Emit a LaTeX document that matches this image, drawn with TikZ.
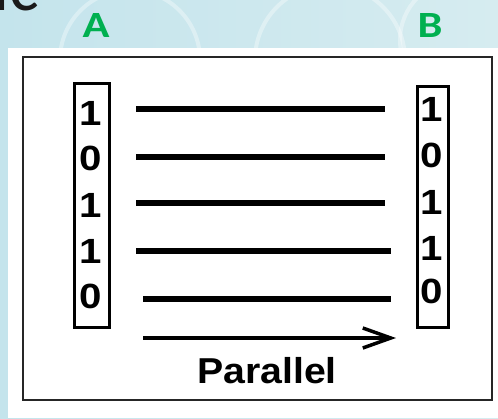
\documentclass[tikz,border=0pt]{standalone}
\usepackage{fontspec}
\setmainfont{Liberation Sans}
\newfontfamily\calfont{Carlito}
\usetikzlibrary{arrows.meta}
\definecolor{bgleft}{RGB}{196,228,236}
\definecolor{bgright}{RGB}{214,236,240}
\definecolor{titlegreen}{RGB}{0,176,80}
\definecolor{titledark}{RGB}{26,26,26}
\tikzset{
  wire/.style={line width=5.5pt},
  bitbox/.style={draw=black, line width=3pt, fill=white},
  bit/.style={font=\fontsize{35}{35}\selectfont\bfseries, inner sep=0pt, anchor=base, xscale=1.15},
  endlabel/.style={font=\calfont\fontsize{37}{37}\selectfont\bfseries, text=titlegreen, inner sep=0pt, anchor=base, xscale=1.2}
}
\begin{document}
\begin{tikzpicture}[x=1pt,y=-1pt]
\clip (0,0) rectangle (498,418);
\useasboundingbox (0,0) rectangle (498,418);
% background
\shade[left color=bgleft, right color=bgright] (0,0) rectangle (498,418);
\foreach \cx/\cy/\r in {130/60/70, 330/60/75, 460/40/60}
  \draw[white, opacity=0.35, line width=4pt] (\cx,\cy) circle (\r);
% cut-off title fragment
\node[font=\calfont\fontsize{70}{70}\selectfont, text=titledark, inner sep=0pt, anchor=base west] (title) at (-7,10) {ic};
% end labels
\node[endlabel] (labA) at (96,37) {A};
\node[endlabel] (labB) at (430,37) {B};
% white panel and frame
\fill[white] (8,48) rectangle (498,418);
\draw[line width=2pt, draw=black!85] (23,57) rectangle (492,400);
% bit boxes
\node[bitbox, minimum width=35pt, minimum height=244pt, inner sep=0pt] (boxA) at (91.5,205) {};
\node[bitbox, minimum width=31pt, minimum height=241pt, inner sep=0pt] (boxB) at (432.5,206.5) {};
% bits on A
\node[bit] (a1) at (91,125) {1};
\node[bit] (a2) at (91,170) {0};
\node[bit] (a3) at (91,217) {1};
\node[bit] (a4) at (91,263) {1};
\node[bit] (a5) at (91,308) {0};
% bits on B
\node[bit] (b1) at (432,121) {1};
\node[bit] (b2) at (432,167) {0};
\node[bit] (b3) at (432,214) {1};
\node[bit] (b4) at (432,260) {1};
\node[bit] (b5) at (432,303) {0};
% wire end points
\coordinate (w1s) at (136,109);  \coordinate (w1e) at (385,109);
\coordinate (w2s) at (136,157);  \coordinate (w2e) at (385,157);
\coordinate (w3s) at (136,203);  \coordinate (w3e) at (385,203);
\coordinate (w4s) at (136,251);  \coordinate (w4e) at (391,251);
\coordinate (w5s) at (143,299);  \coordinate (w5e) at (391,299);
\coordinate (arrs) at (143,338); \coordinate (arre) at (396,338);
% wires
\draw[wire] (w1s) -- (w1e);
\draw[wire] (w2s) -- (w2e);
\draw[wire] (w3s) -- (w3e);
\draw[wire] (w4s) -- (w4e);
\draw[wire] (w5s) -- (w5e);
% direction arrow
\draw[line width=3.5pt, -{Straight Barb[length=28pt, width=20pt, line width=3.5pt]}] (arrs) -- (arre);
% label
\node[font=\fontsize{36}{36}\selectfont\bfseries, inner sep=0pt, anchor=base, xscale=1.09] (par) at (267,383) {Parallel};
\end{tikzpicture}
\end{document}
